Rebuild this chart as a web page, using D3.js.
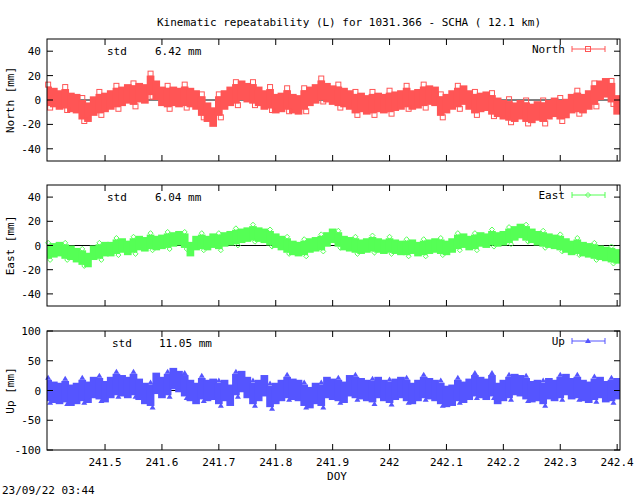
<!DOCTYPE html>
<html><head><meta charset="utf-8">
<script src="https://cdn.jsdelivr.net/npm/d3@7"></script>
<style>body{margin:0;background:#fff}svg{font-family:"DejaVu Sans Mono",monospace;font-size:11px}</style>
</head><body><svg id="chart" width="640" height="496"></svg>
<script>
// epochs 241.40 .. 242.40 every 0.01 day
const doy = d3.range(101).map(i => +(241.40 + i * 0.01).toFixed(2));
const north = [3,2,0,1,-2,-3,-8,-10,-5,-3, -2,0,2,3,5,4,6,5,12,8, 3,2,3,2,3,2,0,-5,-10,-14,
  -5,0,3,5,8,6,5,3,0,1, -3,-2,0,-3,-4,0,3,5,8,6, 4,3,2,0,-3,-2,-4,-3,-2,-3,
  -2,-1,0,2,0,1,3,4,3,-5, -3,0,2,4,0,-3,-2,-1,-4,-6, -8,-9,-10,-8,-10,-11,-9,-10,-8,-6,
  -8,-7,-3,-2,-3,0,4,8,10,6, -4];
const east = [-5,-4,-3,-5,-6,-8,-10,-12,-6,-5, -3,-3,-1,0,-2,0,2,1,3,2, 3,4,5,6,4,-3,2,3,2,4,
  3,5,6,7,8,9,10,9,8,6, 4,2,0,-2,-3,-2,0,1,2,5, 8,5,2,1,0,-1,0,1,0,-1,
  0,-1,-2,-2,-1,-3,-2,-1,0,-1, -2,0,3,4,2,3,5,4,6,5, 6,8,10,12,10,8,6,5,4,3,
  2,0,-2,-1,-3,-4,-5,-6,-7,-8, -9];
const up = [0,-3,-5,-2,-8,-5,0,-3,5,3, -2,5,10,8,5,10,2,-5,-8,12, 5,10,20,15,8,0,-5,3,0,2,
  -5,0,-8,10,15,5,-5,0,8,-10, -5,0,5,2,0,-8,-12,-5,-8,5, 2,0,-3,8,5,3,0,-2,5,0,
  -3,2,5,0,-5,0,5,3,0,-5, -10,-8,0,-3,2,8,5,2,8,-5, 0,5,10,8,3,-2,0,-5,3,0,
  5,10,3,5,0,-3,2,5,-2,0, 3];
const sigma = [8, 6, 18]; // apparent error bar half-width, mm
const stds = ["6.42", "6.04", "11.05"];
const names = ["North", "East", "Up"];
const series = [north, east, up];
const colors = ["#ff5555", "#55ff55", "#5555ff"];
const yDomains = [[-50, 50], [-50, 50], [-100, 100]];
const yTicks = [[-40,-20,0,20,40], [-40,-20,0,20,40], [-100,-50,0,50,100]];
const xTicks = [241.5,241.6,241.7,241.8,241.9,242,242.1,242.2,242.3,242.4];

const svg = d3.select("#chart");
const left = 47, right = 620;
const panels = [[39, 161], [185, 306], [331, 450]];
const x = d3.scaleLinear().domain([241.398, 242.405]).range([left, right]);

svg.append("text").attr("x", 349).attr("y", 26).attr("text-anchor", "middle")
  .text("Kinematic repeatability (L) for 1031.366 - SCHA  ( 12.1 km)");

const marker = (g, i, cx, cy) => {
  if (i === 0) g.append("rect").attr("x", cx - 2.5).attr("y", cy - 2.5).attr("width", 5).attr("height", 5)
    .attr("fill", "none").attr("stroke", colors[i]);
  else if (i === 1) g.append("path").attr("d", `M${cx},${cy-2.5}L${cx+2.5},${cy}L${cx},${cy+2.5}L${cx-2.5},${cy}Z`)
    .attr("fill", "none").attr("stroke", colors[i]);
  else g.append("path").attr("d", `M${cx},${cy-3}L${cx+3},${cy+2}L${cx-3},${cy+2}Z`).attr("fill", colors[i]);
};

panels.forEach(([top, bot], i) => {
  const y = d3.scaleLinear().domain(yDomains[i]).range([bot, top]);
  const g = svg.append("g");
  const c = colors[i];
  const data = series[i];

  // zero line
  g.append("line").attr("x1", left).attr("x2", right).attr("y1", y(0)).attr("y2", y(0)).attr("stroke", "#000");

  // error bars as band
  const bw = x(doy[1]) - x(doy[0]);
  g.selectAll("rect.bar").data(data).join("rect").attr("class", "bar")
    .attr("x", (d, k) => Math.max(left, x(doy[k]) - bw / 2 - 1))
    .attr("width", (d, k) => Math.min(right, x(doy[k]) + bw / 2 + 1) - Math.max(left, x(doy[k]) - bw / 2 - 1))
    .attr("y", d => y(d + sigma[i])).attr("height", d => y(d - sigma[i]) - y(d + sigma[i]))
    .attr("fill", c);
  data.forEach((d, k) => {
    if (k % 3 === 0) { marker(g, i, x(doy[k]), y(d + sigma[i] * 1.2)); marker(g, i, x(doy[k]) + 2, y(d - sigma[i] * 1.15)); }
  });

  // frame and ticks
  g.append("rect").attr("x", left).attr("y", top).attr("width", right - left).attr("height", bot - top)
    .attr("fill", "none").attr("stroke", "#000");
  yTicks[i].forEach(t => {
    g.append("line").attr("x1", left).attr("x2", left + 6).attr("y1", y(t)).attr("y2", y(t)).attr("stroke", "#000");
    g.append("line").attr("x1", right - 6).attr("x2", right).attr("y1", y(t)).attr("y2", y(t)).attr("stroke", "#000");
    g.append("text").attr("x", left - 6).attr("y", y(t) + 4).attr("text-anchor", "end").text(t);
  });
  xTicks.forEach(t => {
    g.append("line").attr("x1", x(t)).attr("x2", x(t)).attr("y1", bot).attr("y2", bot - 6).attr("stroke", "#000");
    g.append("line").attr("x1", x(t)).attr("x2", x(t)).attr("y1", top).attr("y2", top + 6).attr("stroke", "#000");
    if (i === 2) g.append("text").attr("x", x(t)).attr("y", bot + 16).attr("text-anchor", "middle").text(t);
  });
  g.append("text").attr("transform", `translate(14,${(top + bot) / 2}) rotate(-90)`).attr("text-anchor", "middle")
    .text(names[i] + " [mm]");
  g.append("text").attr("x", i === 2 ? 112 : 107).attr("y", top + 16).text("std");
  g.append("text").attr("x", i === 2 ? 159 : 155).attr("y", top + 16).text(stds[i] + " mm");

  // legend
  g.append("text").attr("x", 565).attr("y", top + 14).attr("text-anchor", "end").text(names[i]);
  g.append("line").attr("x1", 572).attr("x2", 605).attr("y1", top + 10).attr("y2", top + 10).attr("stroke", c);
  g.append("line").attr("x1", 572).attr("x2", 572).attr("y1", top + 7).attr("y2", top + 13).attr("stroke", c);
  g.append("line").attr("x1", 605).attr("x2", 605).attr("y1", top + 7).attr("y2", top + 13).attr("stroke", c);
  marker(g, i, 588, top + 10);
});

svg.append("text").attr("x", 337).attr("y", 480).attr("text-anchor", "middle").text("DOY");
svg.append("text").attr("x", 2).attr("y", 494).text("23/09/22 03:44");
</script></body></html>
